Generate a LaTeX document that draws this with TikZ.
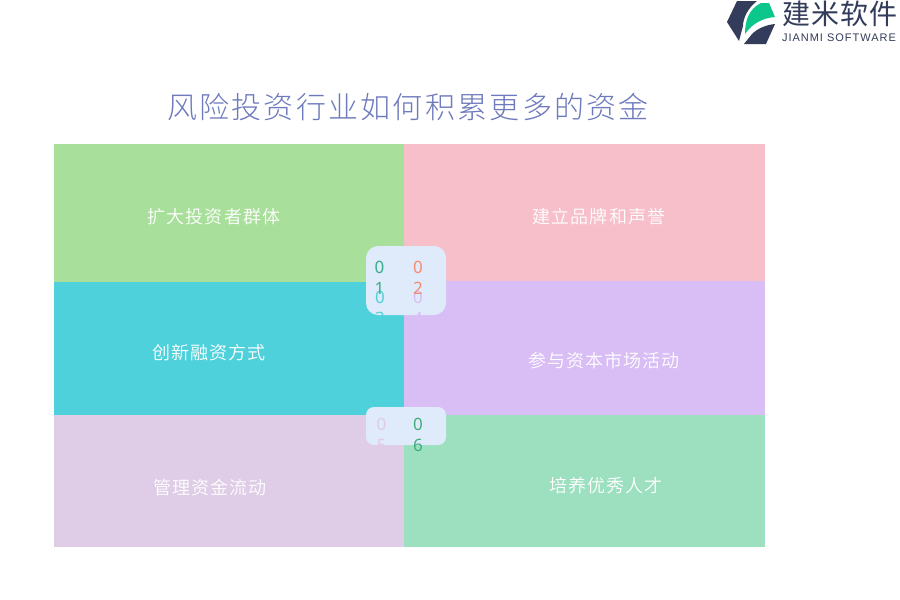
\documentclass[tikz,border=0pt]{standalone}
\usepackage{fontspec}
\setmainfont{Noto Sans CJK SC}
\newfontfamily\cjk{Noto Sans CJK SC DemiLight}[LetterSpace=6]
\newfontfamily\cjktitle{Noto Sans CJK SC Light}[LetterSpace=7.6]
\newfontfamily\logoc{Noto Sans CJK SC}[LetterSpace=3]
\newfontfamily\latn{Liberation Sans}[LetterSpace=9]
\newfontfamily\digit{Noto Sans}
\definecolor{cgreen}{HTML}{A8DF9A}
\definecolor{cpink}{HTML}{F7BFCA}
\definecolor{cteal}{HTML}{4FD1DB}
\definecolor{clilac}{HTML}{D9BEF5}
\definecolor{cmauve}{HTML}{DFCCE6}
\definecolor{cmint}{HTML}{9CE0C0}
\definecolor{cbox}{HTML}{DFEAFA}
\definecolor{ctitle}{HTML}{6E7ABD}
\definecolor{cnavy}{HTML}{333C5A}
\definecolor{clogog}{HTML}{0CC78C}
\definecolor{cone}{HTML}{38AD8C}
\definecolor{ctwo}{HTML}{F58B72}
\definecolor{csix}{HTML}{3FAE7E}
\tikzset{
  lab/.style={text=white,font=\cjk\fontsize{18}{18}\selectfont,anchor=center,inner sep=0},
  dig/.style={font=\digit\fontsize{17}{21}\selectfont,align=center,inner sep=0,anchor=north,text width=12pt}
}
\begin{document}
\begin{tikzpicture}[x=1pt,y=-1pt]
\useasboundingbox[fill=white] (0,0) rectangle (900,600);
\fill[cgreen] (54,144) rectangle (404,282);
\fill[cpink] (404,144) rectangle (765,281);
\fill[cteal] (54,282) rectangle (404,415);
\fill[clilac] (404,281) rectangle (765,415);
\fill[cmauve] (54,415) rectangle (404,547);
\fill[cmint] (404,415) rectangle (765,547);
\fill[cbox,rounded corners=12pt] (366,246) rectangle (446,315);
\fill[cbox,rounded corners=8pt] (366,407) rectangle (446,445);
\node[text=ctitle,font=\cjktitle\fontsize{30}{30}\selectfont,inner sep=0] (title) at (408,107) {风险投资行业如何积累更多的资金};
\node[lab] (a) at (214,217) {扩大投资者群体};
\node[lab] (b) at (599,217) {建立品牌和声誉};
\node[lab] (c) at (209,353) {创新融资方式};
\node[lab] (d) at (604,361) {参与资本市场活动};
\node[lab] (e) at (210,488) {管理资金流动};
\node[lab] (f) at (606,486) {培养优秀人才};
\node[dig,text=cteal] (n3) at (380,291) {0\\3};
\node[dig,text=clilac] (n4) at (418,291) {0\\4};
\node[dig,text=cmauve] (n5) at (381.5,418) {0\\5};
\node[dig,text=cone] (n1) at (379.5,261) {0\\1};
\node[dig,text=ctwo] (n2) at (418,261) {0\\2};
\node[dig,text=csix] (n6) at (418,418) {0\\6};
% logo
\fill[cnavy] (737,1) -- (727,22) -- (739,41) -- (743,26) .. controls (743,18) and (748,8) .. (757,1) -- cycle;
\fill[clogog] (745,34) .. controls (745,20) and (749,9) .. (761,3) -- (769,3) -- (775,17) .. controls (762,18) and (752,24) .. cycle;
\fill[cnavy] (744,44) -- (752,34) .. controls (757,29) and (765,25) .. (775,24) -- (766,44) -- cycle;
\node[text=cnavy,font=\logoc\fontsize{28}{28}\selectfont,inner sep=0] (lc) at (840,14) {建米软件};
\node[text=cnavy,font=\latn\fontsize{11}{11}\selectfont,inner sep=0] (le) at (839,38) {JIANMI SOFTWARE};
\end{tikzpicture}
\end{document}
